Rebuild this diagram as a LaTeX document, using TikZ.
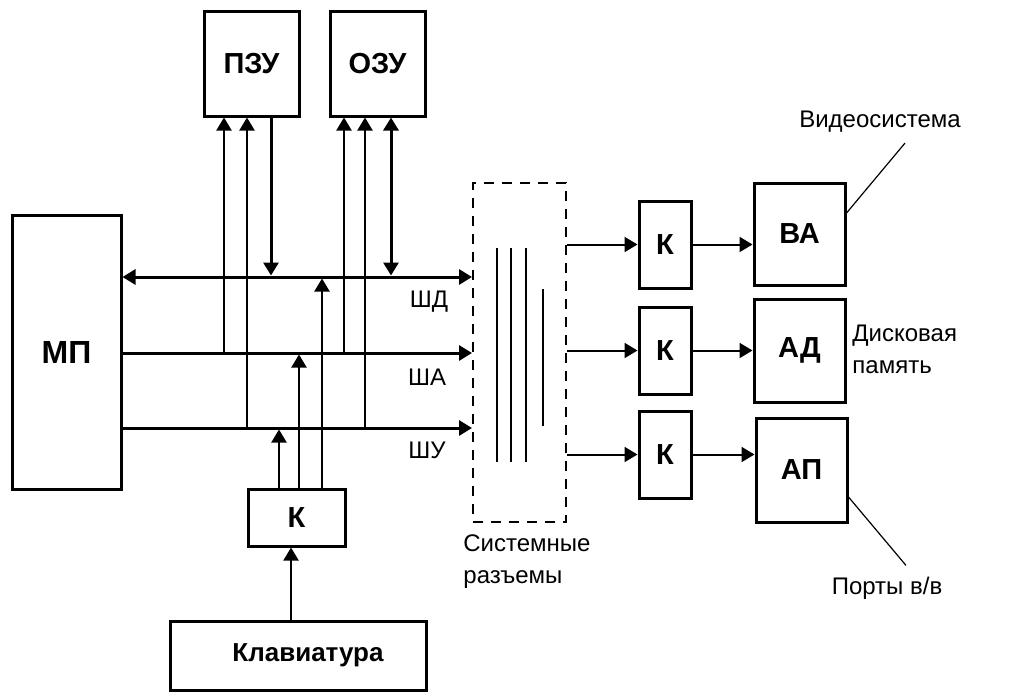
\documentclass[tikz,border=0pt]{standalone}
\usepackage{fontspec}
\setmainfont{Liberation Sans}
\usetikzlibrary{arrows.meta,positioning}
\tikzset{
    unitbox/.style={draw, line width=1.5pt, inner sep=0pt,
        font=\bfseries\fontsize{14.5}{16}\selectfont},
    slotbox/.style={draw, line width=1pt, dash pattern=on 5pt off 4pt, inner sep=0pt},
    busarrow/.style={-{Triangle[length=6.5pt,width=7.5pt]}, line width=1.5pt},
    busboth/.style={{Triangle[length=6.5pt,width=7.5pt]}-{Triangle[length=6.5pt,width=7.5pt]}, line width=1.5pt},
    wirearrow/.style={-{Triangle[length=6.5pt,width=7.5pt]}, line width=1pt},
    wireline/.style={line width=1pt},
    pointer/.style={line width=0.6pt},
    caption/.style={font=\fontsize{12}{16}\selectfont, inner sep=0pt, align=left}
}

\begin{document}
\begin{tikzpicture}[x=0.5pt, y=-0.5pt]
    \useasboundingbox (0,0) rectangle (1020,692);

    \node[unitbox, minimum width=54.5pt, minimum height=137pt,
        font=\bfseries\fontsize{16}{18}\selectfont] (mp) at (66.5,352) {МП};
    \node[unitbox, minimum width=47.5pt, minimum height=52.5pt] (pzu) at (251.5,63.5) {ПЗУ};
    \node[unitbox, minimum width=47.5pt, minimum height=52.5pt] (ozu) at (377.5,63.5) {ОЗУ};
    \node[unitbox, minimum width=48.5pt, minimum height=28.5pt] (kk) at (296.5,517.5) {К};
    \node[unitbox, minimum width=128pt, minimum height=34.5pt,
        font=\bfseries\fontsize{13}{15}\selectfont] (kbd) at (298,655.5) {\hspace*{10pt}Клавиатура};

    \node[slotbox, minimum width=46.5pt, minimum height=169.5pt] (slots) at (519.5,352.5) {};

    \node[unitbox, minimum width=26pt, minimum height=43.5pt] (kva) at (665,244.5) {К};
    \node[unitbox, minimum width=26pt, minimum height=43.5pt] (kad) at (665,350.5) {К};
    \node[unitbox, minimum width=26pt, minimum height=43.5pt] (kap) at (665,454.5) {К};
    \node[unitbox, minimum width=45.5pt, minimum height=51pt] (va) at (799.5,234) {ВА};
    \node[unitbox, minimum width=45.5pt, minimum height=51.5pt] (ad) at (799.5,350.5) {АД};
    \node[unitbox, minimum width=45.5pt, minimum height=52pt] (ap) at (801.5,470) {АП};

    \node[caption] (dname) at (429,302) {ШД};
    \node[caption] (aname) at (427,377) {ША};
    \node[caption] (cname) at (427,450) {ШУ};
    \node[caption, anchor=west] (slotname) at (463,562) {Системные\\разъемы};
    \node[caption] (vsys) at (880,122) {Видеосистема};
    \node[caption, anchor=west] (disk) at (852,349) {Дисковая\\память};
    \node[caption] (ports) at (887,588) {Порты в/в};

    \coordinate (dbus) at (0,277);
    \coordinate (abus) at (0,353);
    \coordinate (cbus) at (0,428);

    \coordinate (pa) at (224,0);
    \coordinate (pc) at (247,0);
    \coordinate (pd) at (271,0);
    \coordinate (oa) at (344,0);
    \coordinate (oc) at (365,0);
    \coordinate (od) at (391,0);
    \coordinate (kc) at (279,0);
    \coordinate (ka) at (299,0);
    \coordinate (kd) at (322,0);

    \draw[busboth] (mp.east |- dbus) -- (slots.west |- dbus);
    \draw[busarrow] (mp.east |- abus) -- (slots.west |- abus);
    \draw[busarrow] (mp.east |- cbus) -- (slots.west |- cbus);

    \draw[wirearrow] (pa |- abus) -- (pa |- pzu.south);
    \draw[wirearrow] (pc |- cbus) -- (pc |- pzu.south);
    \draw[busarrow, shorten >=0.75pt] (pd |- pzu.south) -- (pd |- dbus);
    \draw[wirearrow] (oa |- abus) -- (oa |- ozu.south);
    \draw[wirearrow] (oc |- cbus) -- (oc |- ozu.south);
    \draw[busboth, shorten >=0.75pt] (od |- ozu.south) -- (od |- dbus);

    \draw[wirearrow, shorten >=0.75pt] (kc |- kk.north) -- (kc |- cbus);
    \draw[wirearrow, shorten >=0.75pt] (ka |- kk.north) -- (ka |- abus);
    \draw[wirearrow, shorten >=0.75pt] (kd |- kk.north) -- (kd |- dbus);
    \draw[wirearrow] ([xshift=-2.75pt]kk.south |- kbd.north) -- ([xshift=-2.75pt]kk.south);

    \foreach \x in {497,511,526}
        \draw[wireline] (\x,248) -- (\x,462);
    \draw[wireline] (543,289) -- (543,426);

    \draw[wirearrow] (slots.east |- kva.west) -- (kva.west);
    \draw[wirearrow] (slots.east |- kad.west) -- (kad.west);
    \draw[wirearrow] (slots.east |- kap.west) -- (kap.west);
    \draw[wirearrow] (kva.east) -- (kva.east -| va.west);
    \draw[wirearrow] (kad.east) -- (kad.east -| ad.west);
    \draw[wirearrow] (kap.east) -- (kap.east -| ap.west);

    \draw[pointer] ([yshift=10.5pt]va.east) -- ([xshift=12.5pt,yshift=-5pt]vsys.south);
    \draw[pointer] ([yshift=-13.5pt]ap.east) -- ([xshift=9.5pt,yshift=5.5pt]ports.north);
\end{tikzpicture}
\end{document}
